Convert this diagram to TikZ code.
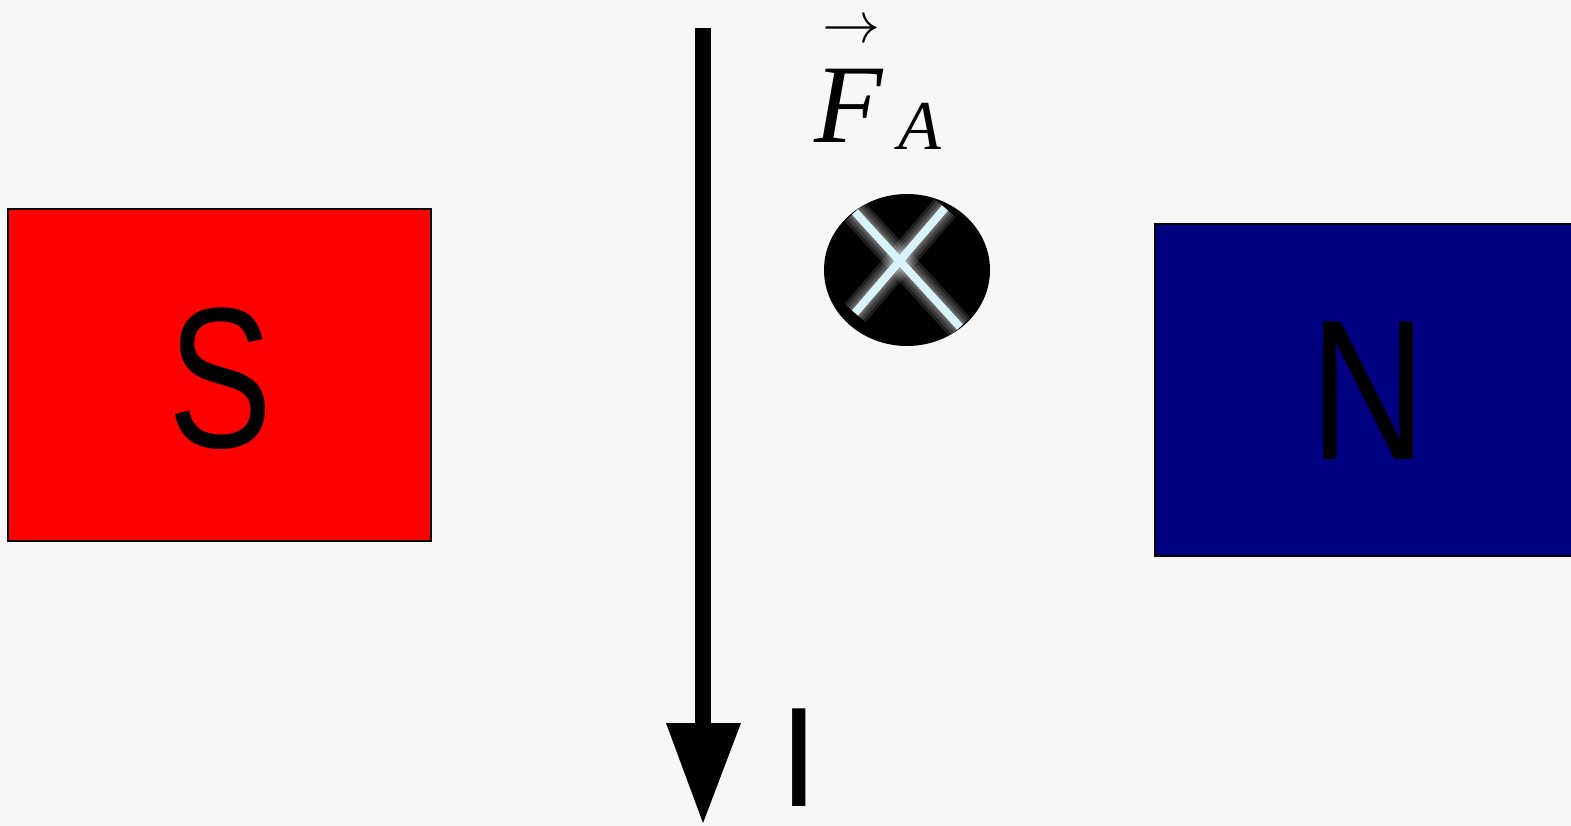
\documentclass[tikz,border=0pt]{standalone}
\usepackage{fontspec}
\usetikzlibrary{shapes.geometric}
\setmainfont{Liberation Serif}[ItalicFont={Liberation Serif Italic}]
\newfontfamily\arialf{Liberation Sans}
\begin{document}
\begin{tikzpicture}[x=1pt,y=-1pt,
  magnet/.style={draw=black,line width=2pt},
  pole/.style={font=\arialf\fontsize{200}{200}\selectfont,inner sep=0pt,anchor=base,text depth=0pt},
  crossline/.style={draw=cyan!15!white,line width=8pt},
  glow/.style={draw=white,line width=#1,opacity=0.12}]
\useasboundingbox (0,0) rectangle (1571,826);
\fill[black!3] (0,0) rectangle (1571,826);
% magnets
\node[magnet,fill=red,minimum width=423pt,minimum height=332pt,inner sep=0pt] (S) at (219.5,375) {};
\node[pole] (Sl) at (221,447) {\scalebox{0.78}[1]{S}};
\draw[magnet,fill={rgb,255:red,0;green,0;blue,128}] (1155,224) rectangle (1575,556);
\coordinate (Nc) at (1365,390);
\node[pole] (Nl) at (1368,459) {\scalebox{0.8}[1]{N}};
% current wire
\coordinate (top) at (703,28);
\coordinate (headbase) at (703,723);
\coordinate (tip) at (703,823);
\draw[line width=16pt] (top) -- (headbase);
\fill (666,723) -- (741,723) -- (tip) -- cycle;
\node[font=\arialf\fontsize{142}{142}\selectfont,inner sep=0pt,anchor=base,text depth=0pt] (I) at (799,806) {I};
% force into page
\node[ellipse,fill=black,minimum width=166pt,minimum height=152pt,inner sep=0pt,draw=none] (circ) at (907,270) {};
\begin{scope}
\clip (907,270) ellipse [x radius=83pt,y radius=76pt];
\foreach \w in {28,22,16,12}{
  \draw[glow=\w pt] (855,212) -- (960,327);
  \draw[glow=\w pt] (945,208) -- (855,313);
}
\end{scope}
\draw[crossline] (855,212) -- (960,327);
\draw[crossline] (945,208) -- (855,313);
% label
\node[font=\fontsize{112}{112}\selectfont\itshape,inner sep=0pt,anchor=base] (F) at (849,143) {F};
\node[font=\fontsize{70}{70}\selectfont\itshape,inner sep=0pt,anchor=base] (A) at (920,150) {A};
\node[inner sep=0pt] (arr) at (851,32) {\resizebox{58pt}{!}{$\rightarrow$}};
\end{tikzpicture}
\end{document}
